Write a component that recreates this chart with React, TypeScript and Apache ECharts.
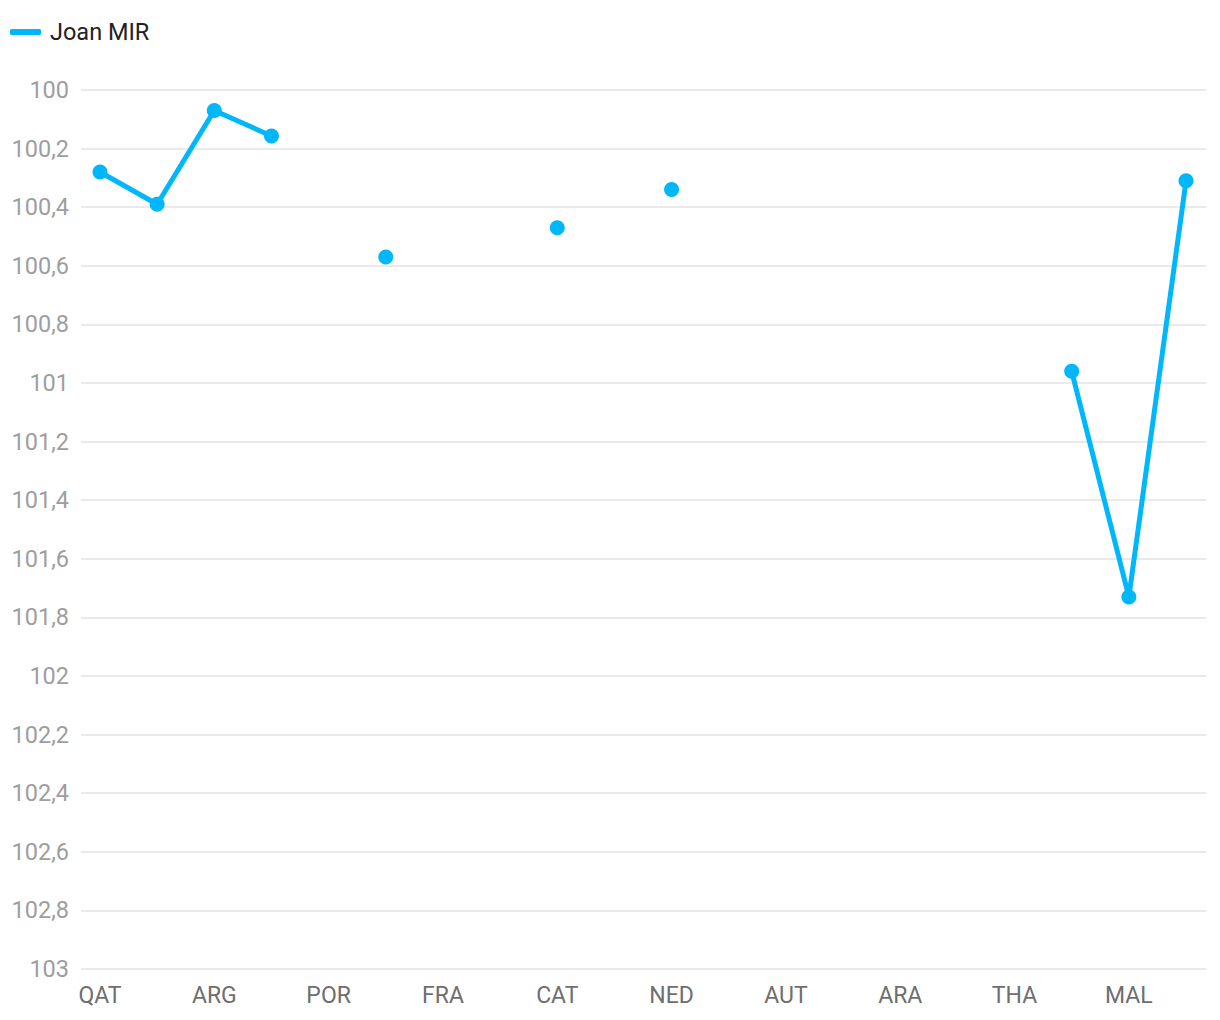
import React, { useEffect, useRef } from "react";
import * as echarts from "echarts";

const categories = ["QAT", "INA", "ARG", "AME", "POR", "SPA", "FRA", "ITA", "CAT", "GER", "NED", "GBR", "AUT", "RSM", "ARA", "JPN", "THA", "AUS", "MAL", "VAL"];
const seriesName = "Joan MIR";
const values: (number | null)[] = [100.28, 100.39, 100.07, 100.157, null, 100.57, null, null, 100.47, null, 100.34, null, null, null, null, null, null, 100.96, 101.73, 100.31];
const yMin = 100;
const yMax = 103;
const yStep = 0.2;

const fmt = (v: number) => String(Number(v.toFixed(1))).replace(".", ",");

export default function App() {
  const ref = useRef<HTMLDivElement>(null);
  useEffect(() => {
    if (!ref.current) return;
    const chart = echarts.init(ref.current, null, { renderer: "svg" });
    const color = "#00b7fb";
    chart.setOption({
      animation: false,
      legend: {
        left: 5,
        top: 15,
        itemWidth: 31,
        itemHeight: 6,
        icon: "roundRect",
        textStyle: { fontFamily: "Roboto", fontSize: 23.5, color: "#222", padding: [0, 0, 0, 4] },
        data: [seriesName],
      },
      grid: [
        { left: 81, right: 14, top: 90, bottom: 51 },
        { left: 71.4, right: 5.4, top: 90, bottom: 51 },
      ],
      xAxis: [
        { gridIndex: 0, type: "value", show: false, min: 0, max: 1 },
        {
          gridIndex: 1,
          type: "category",
          data: categories,
          boundaryGap: true,
          axisLine: { show: false },
          axisTick: { show: false },
          axisLabel: { interval: 1, color: "#6e6e6e", fontSize: 23, fontFamily: "Roboto", margin: 15 },
          splitLine: { show: false },
        },
      ],
      yAxis: [
        {
          gridIndex: 0,
          type: "value",
          inverse: true,
          min: yMin,
          max: yMax,
          interval: yStep,
          axisLine: { show: false },
          axisTick: { show: false },
          axisLabel: { color: "#9e9e9e", fontSize: 23.5, fontFamily: "Roboto", margin: 12, formatter: fmt },
          splitLine: { lineStyle: { color: "#e3e3e3", width: 1.5 } },
        },
        {
          gridIndex: 1,
          type: "value",
          inverse: true,
          min: yMin,
          max: yMax,
          interval: yStep,
          show: false,
          splitLine: { show: false },
        },
      ],
      series: [
        {
          name: seriesName,
          type: "line",
          xAxisIndex: 1,
          yAxisIndex: 1,
          data: values,
          color,
          symbol: "circle",
          symbolSize: 15,
          showSymbol: true,
          showAllSymbol: true,
          connectNulls: false,
          lineStyle: { width: 5, color },
          itemStyle: { color },
        },
      ],
    });
    return () => chart.dispose();
  }, []);
  return <div ref={ref} style={{ width: 1220, height: 1020, position: "absolute", left: 0, top: 0 }} />;
}
